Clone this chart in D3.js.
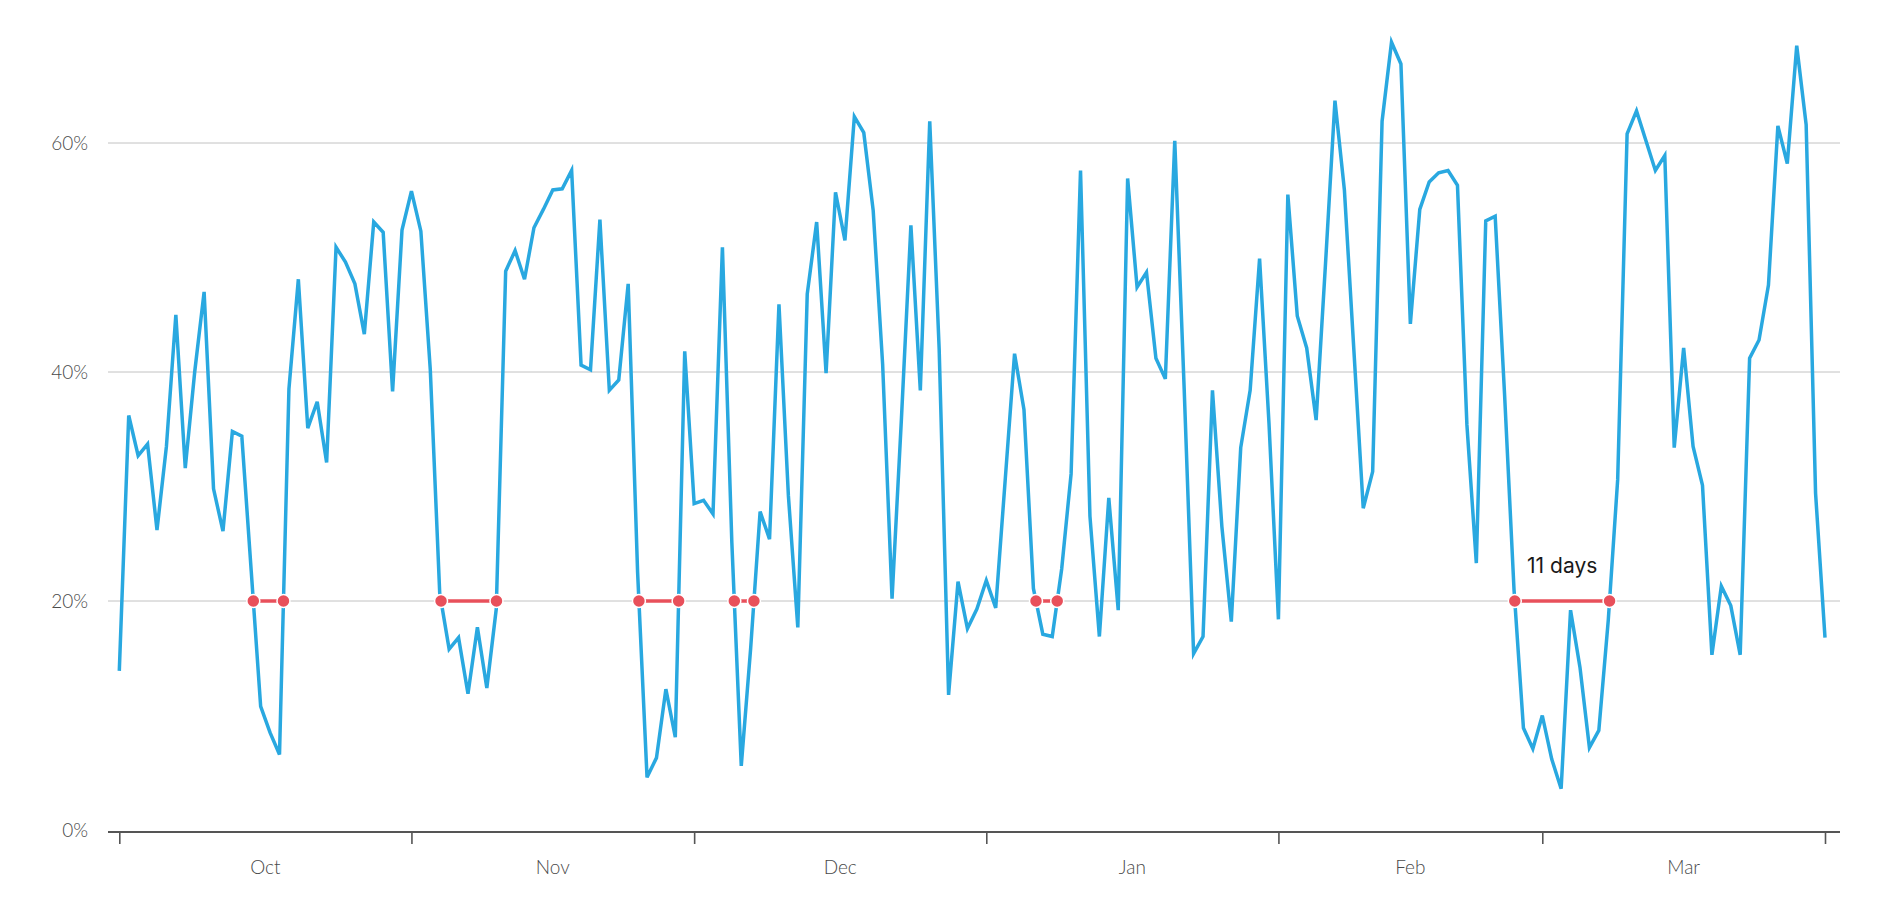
<!DOCTYPE html>
<html>
<head>
<meta charset="utf-8">
<script src="https://cdn.jsdelivr.net/npm/d3@7"></script>
<style>
  html, body { margin: 0; padding: 0; background: #fff; }
  svg { display: block; }
</style>
</head>
<body>
<svg id="chart" width="1880" height="920"></svg>
<script>
// ---- data ----
const startDate = "2018-10-01";
const values = [
  13.9, 36.2, 32.7, 33.7, 26.2, 33.5, 45.0, 31.6, 40.0, 47.0,
  29.8, 26.1, 34.8, 34.4, 22.6, 10.8, 8.5, 6.6, 38.5, 48.1,
  35.1, 37.4, 32.1, 50.9, 49.6, 47.7, 43.3, 53.1, 52.2, 38.3,
  52.4, 55.8, 52.3, 40.2, 20.7, 15.8, 16.8, 11.9, 17.7, 12.4,
  19.3, 48.8, 50.6, 48.1, 52.6, 54.2, 55.9, 56.0, 57.6, 40.6,
  40.2, 53.3, 38.4, 39.3, 47.7, 22.5, 4.6, 6.3, 12.3, 8.1,
  41.8, 28.5, 28.8, 27.6, 50.9, 25.1, 5.6, 15.9, 27.8, 25.4,
  45.9, 29.2, 17.7, 46.8, 53.1, 39.9, 55.7, 51.5, 62.3, 60.9,
  54.1, 40.7, 20.2, 36.0, 52.8, 38.4, 61.9, 42.0, 11.8, 21.7,
  17.6, 19.3, 21.8, 19.4, 30.5, 41.6, 36.7, 21.1, 17.1, 16.9,
  22.8, 31.1, 57.6, 27.4, 16.9, 29.0, 19.2, 56.9, 47.4, 48.7,
  41.2, 39.4, 60.2, 38.5, 15.4, 16.9, 38.4, 26.5, 18.2, 33.4,
  38.4, 49.9, 35.5, 18.4, 55.5, 44.9, 42.1, 35.8, 49.5, 63.7,
  55.9, 42.0, 28.1, 31.3, 61.9, 68.8, 66.9, 44.2, 54.2, 56.6,
  57.4, 57.6, 56.3, 35.4, 23.3, 53.2, 53.6, 38.0, 21.0, 8.9,
  7.1, 10.0, 6.2, 3.6, 19.2, 14.2, 7.2, 8.7, 18.3, 30.6,
  60.8, 62.8, 60.2, 57.6, 58.9, 33.4, 42.1, 33.5, 30.1, 15.3,
  21.3, 19.6, 15.3, 41.2, 42.8, 47.6, 61.5, 58.2, 68.5, 61.6,
  29.4, 16.8
];
const monthLabels = ["Oct", "Nov", "Dec", "Jan", "Feb", "Mar"];
const yTickValues = [0, 20, 40, 60];
const threshold = 20;
const minRunDays = 2;

// ---- setup ----
const parse = d3.timeParse("%Y-%m-%d");
const t0 = parse(startDate);
const data = values.map((v, i) => ({ date: d3.timeDay.offset(t0, i), value: v }));
const tEnd = data[data.length - 1].date;

const svg = d3.select("#chart");
const x = d3.scaleTime().domain([t0, tEnd]).range([119.3, 1825]);
const y = d3.scaleLinear().domain([0, 60]).range([830, 143]);
const left = 108, right = 1840;

// grid
svg.append("g").selectAll("line").data(yTickValues.filter(d => d > 0)).join("line")
  .attr("x1", left).attr("x2", right)
  .attr("y1", d => y(d)).attr("y2", d => y(d))
  .attr("stroke", "#c2c2c2").attr("stroke-width", 1);

// y labels
svg.append("g").selectAll("text").data(yTickValues).join("text")
  .attr("x", 88).attr("y", d => y(d)).attr("dy", "0.35em")
  .attr("text-anchor", "end")
  .attr("font-family", "Lato, sans-serif").attr("font-weight", 300)
  .attr("font-size", 19).attr("fill", "#4a4a4a")
  .text(d => d + "%");

// x axis
const monthStarts = d3.timeMonth.range(t0, d3.timeDay.offset(tEnd, 1));
monthStarts.push(tEnd);
const xAxis = d3.axisBottom(x).tickValues(monthStarts).tickSize(12).tickFormat("");
const gx = svg.append("g").attr("transform", `translate(0,${y(0) + 2})`).call(xAxis);
gx.select(".domain").remove();
gx.selectAll(".tick line").attr("stroke", "#555").attr("stroke-width", 1.6);
svg.append("line").attr("x1", left).attr("x2", right)
  .attr("y1", y(0) + 2).attr("y2", y(0) + 2)
  .attr("stroke", "#555").attr("stroke-width", 2);

// month labels at mid-month
const mids = monthStarts.slice(0, 6).map((m, i) => {
  const next = i < 5 ? monthStarts[i + 1] : tEnd;
  return new Date((m.getTime() + next.getTime()) / 2);
});
svg.append("g").selectAll("text").data(monthLabels).join("text")
  .attr("x", (d, i) => x(mids[i])).attr("y", y(0) + 44)
  .attr("text-anchor", "middle")
  .attr("font-family", "Lato, sans-serif").attr("font-weight", 300)
  .attr("font-size", 19).attr("fill", "#4a4a4a")
  .text(d => d);

// line
const line = d3.line().x(d => x(d.date)).y(d => y(d.value));
svg.append("path").datum(data)
  .attr("d", line).attr("fill", "none")
  .attr("stroke", "#29a8e0").attr("stroke-width", 3.5);

// runs below threshold
const runs = [];
let start = null;
for (let i = 1; i < values.length; i++) {
  const a = values[i - 1], b = values[i];
  if (a >= threshold && b < threshold) {
    start = (i - 1) + (a - threshold) / (a - b);
  } else if (a < threshold && b >= threshold && start !== null) {
    const end = (i - 1) + (threshold - a) / (b - a);
    runs.push({ s: start, e: end, dur: end - start });
    start = null;
  }
}
const shown = runs.filter(r => r.dur >= minRunDays);
const idxToDate = k => new Date(t0.getTime() + k * 86400000);
const longest = d3.greatest(shown, r => r.dur);

const gr = svg.append("g");
shown.forEach(r => {
  const x1 = x(idxToDate(r.s)), x2 = x(idxToDate(r.e));
  gr.append("line").attr("x1", x1).attr("x2", x2)
    .attr("y1", y(threshold)).attr("y2", y(threshold))
    .attr("stroke", "#e8505b").attr("stroke-width", 3.5);
  [x1, x2].forEach(cx => gr.append("circle")
    .attr("cx", cx).attr("cy", y(threshold)).attr("r", 6.5)
    .attr("fill", "#e8505b").attr("stroke", "#fff").attr("stroke-width", 1.5));
  if (r === longest) {
    gr.append("text").attr("x", (x1 + x2) / 2).attr("y", y(threshold) - 28)
      .attr("text-anchor", "middle")
      .attr("font-family", "Inter, sans-serif").attr("font-size", 21)
      .attr("fill", "#1a1a1a")
      .text(Math.ceil(r.dur) + " days");
  }
});
</script>
</body>
</html>
